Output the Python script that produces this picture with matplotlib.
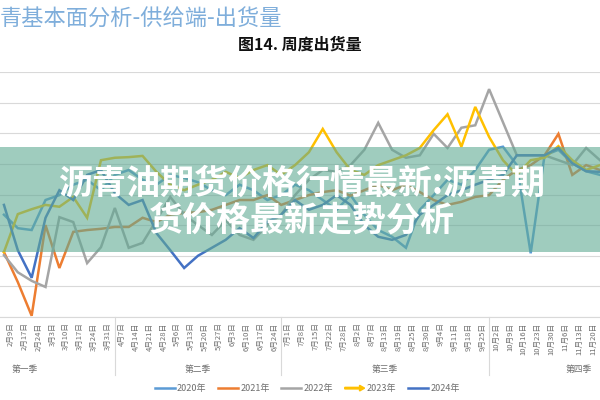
import matplotlib
matplotlib.use('Agg')
import matplotlib.pyplot as plt
import matplotlib.patches as mpatches
from matplotlib.legend_handler import HandlerPatch
from matplotlib.transforms import ScaledTranslation, blended_transform_factory
import numpy as np

plt.rcParams['font.family'] = ['Noto Sans CJK SC', 'DejaVu Sans']

# weekly categories (x axis)
weeks = ['2月2日', '2月9日', '2月17日', '2月24日', '3月3日', '3月10日', '3月17日', '3月24日',
         '3月31日', '4月7日', '4月14日', '4月21日', '4月28日', '5月6日', '5月13日', '5月20日',
         '5月27日', '6月3日', '6月10日', '6月17日', '6月24日', '7月1日', '7月8日', '7月15日',
         '7月22日', '7月28日', '8月2日', '8月7日', '8月13日', '8月19日', '8月25日', '8月30日',
         '9月4日', '9月11日', '9月18日', '9月25日', '10月2日', '10月9日', '10月16日', '10月23日',
         '10月30日', '11月6日', '11月13日', '11月20日']
quarters = ['第一季', '第二季', '第三季', '第四季']
quarter_edges = [-5, 8, 20, 35, 48]

y2020 = [36.7, 34.5, 34.2, 39.1, 39.9, 41.6, 42.4, 40.7, 43.2, 44.0, 42.4, 41.6, 43.2, 42.7, 42.0,
         40.7, 39.9, 41.6, 40.7, 39.1, 39.9, 41.6, 40.7, 39.1, 37.5, 39.9, 36.7, 34.2, 33.1, 31.3,
         37.5, 39.9, 42.4, 41.6, 44.0, 47.3, 47.8, 44.8, 30.4, 46.4, 47.3, 45.1, 43.8, 43.2]
y2021 = [30.6, 25.7, 20.2, 35.0, 28.0, 33.9, 34.2, 34.4, 34.7, 34.7, 36.2, 35.5, 36.7, 37.0, 37.1,
         37.5, 38.3, 39.1, 39.1, 39.9, 38.3, 39.1, 39.9, 40.4, 40.7, 39.8, 40.7, 41.6, 40.7, 41.6,
         40.4, 39.1, 38.3, 38.8, 39.6, 39.9, 42.4, 44.0, 44.8, 46.4, 49.9, 43.2, 44.8, 44.0]
y2022 = [30.1, 27.3, 25.9, 24.9, 36.3, 35.5, 28.8, 31.4, 37.8, 31.3, 32.1, 35.8, 39.6, 36.7, 35.0,
         33.4, 35.8, 33.4, 32.6, 35.0, 36.7, 39.9, 42.4, 44.0, 43.7, 44.8, 47.3, 51.7, 47.3, 46.0,
         46.4, 49.9, 47.6, 50.9, 51.3, 57.2, 51.8, 46.4, 46.4, 46.4, 45.6, 44.8, 47.6, 45.6]
y2023 = [30.6, 36.8, 37.6, 38.3, 38.0, 39.6, 36.2, 45.6, 46.0, 46.1, 46.3, 43.7, 41.6, 40.7, 41.6,
         42.4, 43.7, 42.7, 44.0, 44.8, 43.2, 44.8, 46.9, 50.7, 46.9, 44.0, 43.2, 44.8, 45.6, 46.4,
         47.6, 50.5, 53.1, 47.8, 54.3, 49.4, 45.6, 43.2, 45.6, 46.0, 47.9, 45.6, 44.0, 44.8]
y2024 = [38.3, 30.9, 26.4, 36.2, 40.7, 39.1, 43.2, 44.0, 40.2, 38.3, 39.1, 33.7, 30.9, 28.0, 30.0,
         31.3, 32.6, 34.5, 32.9, 35.5, 36.7, 39.1, 37.5, 38.3, 39.9, 38.3, 35.0, 33.1, 32.6, 33.4,
         36.7, 38.3, 39.9, 40.7, 41.6, 42.4, 43.2, 46.4, 46.4, 46.4, 47.6, 45.1, 43.8, 43.7]

series = [('2020年', y2020, '#5B9BD5'),
          ('2021年', y2021, '#ED7D31'),
          ('2022年', y2022, '#A5A5A5'),
          ('2023年', y2023, '#FFC000'),
          ('2024年', y2024, '#4472C4')]


class ArrowHandler(HandlerPatch):
    def create_artists(self, legend, orig_handle, xdescent, ydescent, width, height, fontsize, trans):
        y = height / 2 - ydescent
        arr = mpatches.FancyArrow(-xdescent, y, width, 0, width=height * 0.25,
                                  head_width=height * 0.9, head_length=height * 0.8,
                                  length_includes_head=True, color=orig_handle.get_facecolor())
        arr.set_transform(trans)
        return [arr]


fig = plt.figure(figsize=(6, 4), dpi=100)
ax = fig.add_axes([0, 1 - 317 / 400, 1, 245 / 400])

x = np.arange(len(weeks))
handles = []
for name, vals, color in series:
    ln, = ax.plot(x, vals, color=color, lw=1.8, label=name, solid_joinstyle='miter')
    handles.append(ln)

ax.set_xlim(-4 / 14.05, 596 / 14.05)
ax.set_ylim(20, 60)
ax.set_yticks(np.arange(20, 61, 5))
ax.yaxis.grid(True, color='#D9D9D9', lw=0.8)
ax.set_axisbelow(True)
for s in ['left', 'right', 'top']:
    ax.spines[s].set_visible(False)
ax.spines['bottom'].set_color('#D9D9D9')
ax.tick_params(axis='y', length=0, labelleft=False)

ax.set_xticks(x)
ax.set_xticklabels(weeks, rotation=90, fontsize=5.5, color='#6E6E6E', va='top', ha='center')
ax.tick_params(axis='x', length=0, pad=4)
shift = ScaledTranslation(-0.07, 0, fig.dpi_scale_trans)
for lab in ax.get_xticklabels():
    lab.set_transform(lab.get_transform() + shift)

# quarter grouping below the dates
trans = blended_transform_factory(ax.transData, ax.transAxes)
for e in quarter_edges[1:-1]:
    ax.plot([e, e], [0, -0.237], color='#D9D9D9', lw=0.8, transform=trans, clip_on=False)
for i, q in enumerate(quarters):
    c = (quarter_edges[i] + quarter_edges[i + 1]) / 2
    ax.text(c, -0.216, q, transform=trans, ha='center', va='center', fontsize=6.3, color='#6E6E6E')

# legend, 2023 drawn as an arrow
arrow_handle = mpatches.Patch(facecolor='#FFC000')
handles[3] = arrow_handle
labels = [s[0] for s in series]
fig.legend(handles, labels, loc='center', bbox_to_anchor=(0.512, 0.028), ncol=5, frameon=False,
           fontsize=6.5, handlelength=2.2, handletextpad=0.25, columnspacing=1.3,
           labelcolor='#6E6E6E', handler_map={arrow_handle: ArrowHandler()})

# slide titles
fig.text(0.0, 1 - 19 / 400, '青基本面分析-供给端-出货量', fontsize=16, color='#7FAEDB',
         ha='left', va='center')
fig.text(0.5, 1 - 45 / 400, '图14. 周度出货量', fontsize=11.5, fontweight='bold', color='#111111',
         ha='center', va='center')

# translucent banner with headline
fig.add_artist(mpatches.Rectangle((0, 1 - 252 / 400), 1, 105 / 400, transform=fig.transFigure,
                                  facecolor='#60AA94', alpha=0.6, edgecolor='none', zorder=5))
fig.text(0.503, 1 - 183 / 400, '沥青油期货价格行情最新:沥青期', fontsize=24.5, fontweight='bold',
         color='white', ha='center', va='center', zorder=6)
fig.text(0.503, 1 - 220 / 400, '货价格最新走势分析', fontsize=24.5, fontweight='bold',
         color='white', ha='center', va='center', zorder=6)

fig.savefig('out.png', dpi=100)
